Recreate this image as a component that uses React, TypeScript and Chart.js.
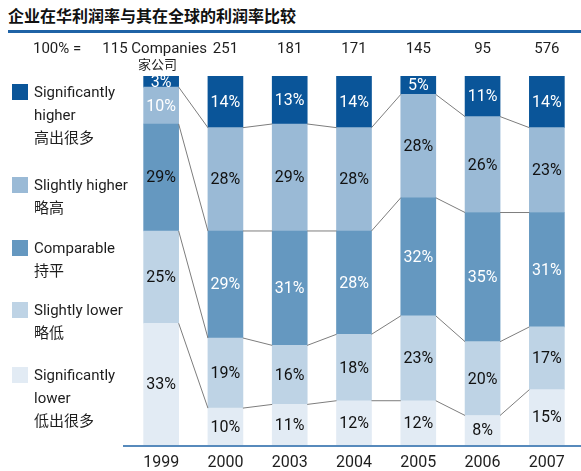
import React, { useEffect, useRef } from "react";
import { Chart, registerables } from "chart.js";

Chart.register(...registerables);

const years = ["1999", "2000", "2003", "2004", "2005", "2006", "2007"];
const totals = ["115", "251", "181", "171", "145", "95", "576"];
const sigLower = [33, 10, 11, 12, 12, 8, 15];
const slightlyLower = [25, 19, 16, 18, 23, 20, 17];
const comparable = [29, 29, 31, 28, 32, 35, 31];
const slightlyHigher = [10, 28, 29, 28, 28, 26, 23];
const sigHigher = [3, 14, 13, 14, 5, 11, 14];

const seriesNames = [
  ["Significantly", "lower", "低出很多"],
  ["Slightly lower", "略低"],
  ["Comparable", "持平"],
  ["Slightly higher", "略高"],
  ["Significantly", "higher", "高出很多"],
];
const colors = ["#e2ebf4", "#bed3e5", "#6598c0", "#9abad6", "#0a5599"];

const FONT = 'Roboto, "Liberation Sans", "Noto Sans CJK SC", sans-serif';
const TEXT = "#1e1e1e";

const lightLabel = (ds: number, i: number) =>
  ds === 4 || (ds === 2 && i > 0) || (ds === 3 && i === 0);

const overlayPlugin = {
  id: "overlay",
  afterDatasetsDraw(chart: any) {
    const ctx = chart.ctx;
    const metas = chart.data.datasets.map((_: any, d: number) => chart.getDatasetMeta(d));
    ctx.save();
    // connector lines between segment boundaries
    ctx.strokeStyle = "#7d7d7d";
    ctx.lineWidth = 1;
    for (let d = 0; d < metas.length - 1; d++) {
      const els = metas[d].data;
      for (let i = 0; i < els.length - 1; i++) {
        const a = els[i];
        const b = els[i + 1];
        ctx.beginPath();
        ctx.moveTo(a.x + a.width / 2, a.y);
        ctx.lineTo(b.x - b.width / 2, b.y);
        ctx.stroke();
      }
    }
    // value labels
    ctx.font = `16px ${FONT}`;
    ctx.textAlign = "center";
    ctx.textBaseline = "middle";
    metas.forEach((meta: any, d: number) => {
      const vals = chart.data.datasets[d].data;
      meta.data.forEach((el: any, i: number) => {
        ctx.fillStyle = lightLabel(d, i) ? "#ffffff" : "#111111";
        ctx.fillText(vals[i] + "%", el.x, (el.y + el.base) / 2 + 1);
      });
    });
    // totals row
    const xs = chart.scales.x;
    ctx.fillStyle = TEXT;
    ctx.font = `15px ${FONT}`;
    ctx.textAlign = "left";
    ctx.fillText("100% =", 33, 49);
    totals.forEach((t, i) => {
      if (i === 0) {
        ctx.textAlign = "right";
        ctx.fillText(t + " Companies", 207, 49);
        ctx.font = `13px ${FONT}`;
        ctx.textAlign = "left";
        ctx.fillText("家公司", 138, 66);
        ctx.font = `15px ${FONT}`;
      } else {
        ctx.textAlign = "center";
        ctx.fillText(t, xs.getPixelForValue(i), 49);
      }
    });
    // axis line
    ctx.strokeStyle = "#1f63a6";
    ctx.lineWidth = 1.5;
    ctx.beginPath();
    ctx.moveTo(123, chart.chartArea.bottom + 1);
    ctx.lineTo(581, chart.chartArea.bottom + 1);
    ctx.stroke();
    ctx.restore();
  },
};

export default function App() {
  const ref = useRef<HTMLCanvasElement | null>(null);
  useEffect(() => {
    document.body.style.margin = "0";
    const seriesData = [sigLower, slightlyLower, comparable, slightlyHigher, sigHigher];
    const chart = new Chart(ref.current as HTMLCanvasElement, {
      type: "bar",
      data: {
        labels: years,
        datasets: seriesData.map((data, d) => ({
          label: seriesNames[d].join(" "),
          data,
          backgroundColor: colors[d],
          borderWidth: 0,
          barThickness: 35,
        })),
      },
      options: {
        animation: false,
        responsive: false,
        layout: { padding: { left: 129, right: 2, top: 76, bottom: 0 } },
        plugins: { legend: { display: false }, tooltip: { enabled: false } },
        scales: {
          x: {
            stacked: true,
            grid: { display: false },
            border: { display: false },
            ticks: {
              font: { size: 16, family: FONT },
              color: TEXT,
              padding: 0,
              maxRotation: 0,
              autoSkip: false,
            },
            afterFit: (s: any) => {
              s.height = 26;
            },
          },
          y: { stacked: true, display: false, min: 0, max: 100 },
        },
      } as any,
      plugins: [overlayPlugin],
    });
    return () => chart.destroy();
  }, []);

  const legendTops = [367, 302, 240, 177, 84];

  return (
    <div
      style={{
        position: "absolute",
        left: 0,
        top: 0,
        width: 581,
        height: 471,
        background: "#fff",
        fontFamily: FONT,
        color: TEXT,
      }}
    >
      <div
        style={{
          position: "absolute",
          left: 8,
          top: 4,
          fontSize: 16,
          lineHeight: "22px",
          fontWeight: 700,
          fontFamily: '"Noto Sans CJK SC", sans-serif',
          color: "#111",
          whiteSpace: "nowrap",
        }}
      >
        企业在华利润率与其在全球的利润率比较
      </div>
      <div
        style={{
          position: "absolute",
          left: 8,
          top: 30,
          width: 573,
          height: 3,
          background: "#1f63a6",
        }}
      />
      <canvas
        ref={ref}
        width={581}
        height={471}
        style={{ position: "absolute", left: 0, top: 0, width: 581, height: 471 }}
      />
      {seriesNames.map((lines, d) => (
        <div key={d}>
          <div
            style={{
              position: "absolute",
              left: 12,
              top: legendTops[d],
              width: 16,
              height: 16,
              background: colors[d],
            }}
          />
          <div
            style={{
              position: "absolute",
              left: 34,
              top: legendTops[d] - 3,
              fontSize: 15,
              lineHeight: "23px",
              whiteSpace: "nowrap",
            }}
          >
            {lines.map((l, k) => (
              <div key={k}>{l}</div>
            ))}
          </div>
        </div>
      ))}
    </div>
  );
}
